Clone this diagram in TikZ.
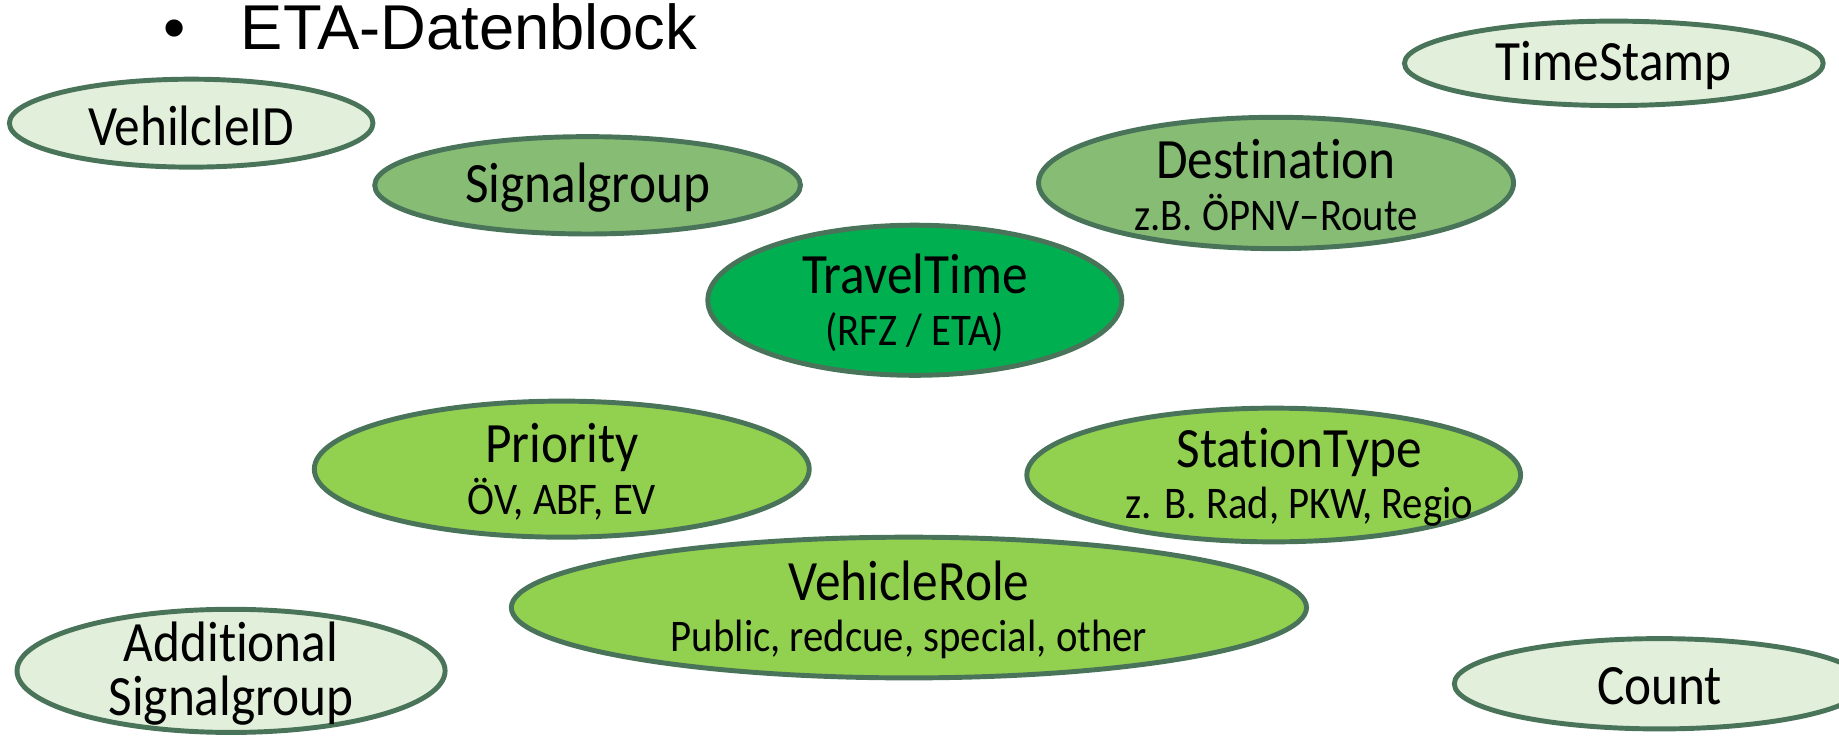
\documentclass[tikz,border=0pt]{standalone}
\usepackage{fontspec}
\setmainfont{Carlito}[FakeStretch=0.9, Ligatures=NoCommon]
\newfontfamily\titlefont{Liberation Sans}
\usetikzlibrary{shapes.geometric}
\definecolor{edgegreen}{HTML}{4A7459}
\definecolor{palegreen}{HTML}{E2EFDA}
\definecolor{midgreen}{HTML}{86BC73}
\definecolor{strongreen}{HTML}{00B050}
\definecolor{limegreen}{HTML}{92D050}
\newcommand{\subsz}{\fontsize{19.3}{22}\selectfont}
\begin{document}
\begin{tikzpicture}[x=0.5pt,y=-0.5pt,
  ell/.style={ellipse, draw=edgegreen, line width=2.1pt, inner sep=0pt},
  sz/.style 2 args={minimum width=#1*0.5pt, minimum height=#2*0.5pt},
  lab/.style={align=center, font=\fontsize{24.3}{22}\selectfont, text=black, inner sep=0pt, yshift=-1pt},
  pale/.style={ell, fill=palegreen},
  mid/.style={ell, fill=midgreen},
  strong/.style={ell, fill=strongreen},
  lime/.style={ell, fill=limegreen}]
\useasboundingbox (0,0) rectangle (1568,627.5);
\node[anchor=base, font=\titlefont\fontsize{27}{30}\selectfont, inner sep=0pt] (bullet) at (149,42) {•};
\node[anchor=base west, font=\titlefont\fontsize{27}{30}\selectfont, inner sep=0pt] (title) at (205,42) {ETA-Datenblock};

\node[pale, sz={310}{75}, label={[lab]center:VehilcleID}] (vid) at (163,105) {};
\node[pale, sz={357}{72}, label={[lab]center:TimeStamp}] (ts) at (1376,54) {};
\node[mid, sz={363}{83}, label={[lab]center:Signalgroup}] (sg) at (501,158) {};
\node[mid, sz={405}{112}, label={[lab]center:Destination\\{\subsz z.B. ÖPNV–Route}}] (dest) at (1088,156) {};
\node[strong, sz={353}{128}, label={[lab]center:TravelTime\\{\subsz (RFZ / ETA)}}] (tt) at (780,256) {};
\node[lime, sz={422}{116}, label={[lab]center:Priority\\{\subsz ÖV, ABF, EV}}] (prio) at (479,400) {};
\node[lime, sz={421}{114}, label={[lab, xshift=11pt]center:StationType\\{\subsz z. B. Rad, PKW, Regio}}] (st) at (1086,405) {};
\node[lime, sz={678}{120}, label={[lab]center:VehicleRole\\{\subsz Public, redcue, special, other}}] (vr) at (775,518) {};
\node[pale, sz={365}{105}, label={[lab, font=\fontsize{24.3}{23}\selectfont]center:Additional\\Signalgroup}] (asg) at (197,572) {};
\node[pale, sz={350}{77}, label={[lab]center:Count}] (cnt) at (1415,583) {};
\end{tikzpicture}
\end{document}
